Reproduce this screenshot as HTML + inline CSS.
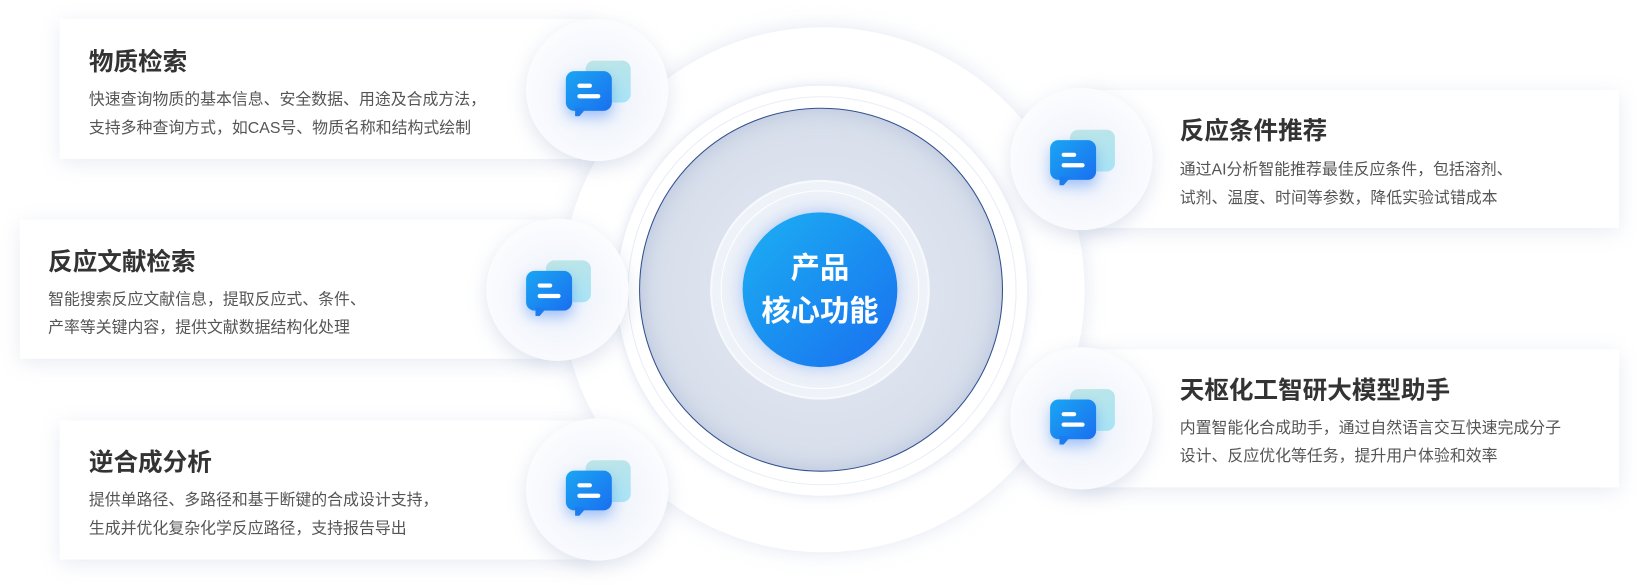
<!DOCTYPE html>
<html><head><meta charset="utf-8"><style>
*{margin:0;padding:0;box-sizing:border-box}
body{width:1640px;height:584px;background:#fff;position:relative;overflow:hidden;font-family:"Liberation Sans","Noto Sans CJK SC",sans-serif}
#w{position:absolute;left:0;top:0;width:1568px;height:559px;transform:scale(1.0459);transform-origin:0 0}
.abs{position:absolute}
.card{position:absolute;background:#fff;box-shadow:0 4px 18px rgba(150,165,200,0.22)}
.circ{position:absolute;border-radius:50%}
.ic{position:absolute;width:136px;height:136px;border-radius:50%;background:radial-gradient(circle at 50% 55%,#e3ecfb 0,#f3f6fc 35%,#fbfcfe 70%,#fff 100%);box-shadow:0 6px 18px rgba(150,165,200,0.3)}
.back{position:absolute;left:57px;top:40px;width:43px;height:40px;border-radius:8px;background:linear-gradient(160deg,#bfe5e6,#a8e4f6)}
.front{position:absolute;left:38px;top:50px;width:44px;height:38px;border-radius:8px;background:linear-gradient(135deg,#1aa6f2,#1a6ff0);box-shadow:0 6px 12px rgba(30,110,240,0.35)}
.tail{position:absolute;left:47px;top:85px;width:0;height:0;border-left:4px solid #1a7cef;border-right:7px solid transparent;border-top:8px solid #1a7cef}
.l1{position:absolute;left:11px;top:12px;width:14px;height:4px;border-radius:2px;background:#fff}
.l2{position:absolute;left:11px;top:22px;width:22px;height:4px;border-radius:2px;background:#fff}
.t{position:absolute;font-size:23.5px;font-weight:bold;color:#333}
.d{position:absolute;font-size:15.2px;color:#555;line-height:27px;white-space:nowrap}
</style></head><body><div id="w">
<div class="circ" style="left:537px;top:26px;width:500px;height:502px;background:#fff;box-shadow:0 0 20px rgba(170,185,215,0.35)"></div>
<div class="circ" style="left:588px;top:80px;width:396px;height:396px;border:2px solid #eef1f7;box-shadow:0 0 10px rgba(170,185,215,0.3)"></div>
<div class="circ" style="left:600px;top:92px;width:372px;height:372px;border:1px solid #e9edf5"></div>
<div class="circ" style="left:611px;top:103px;width:348px;height:348px;border:1px solid #2f4f8f;background:radial-gradient(circle,#e6ebf3 0,#d9e0ec 60%,#ccd5e4 100%);box-shadow:inset 0 0 20px rgba(140,160,200,0.4)"></div>
<div class="circ" style="left:679px;top:172px;width:210px;height:210px;background:#eef2f9;border:2px solid #f7f9fc"></div>
<div class="circ" style="left:689px;top:182px;width:190px;height:190px;border:1px solid #fff;background:#edf1f8"></div>
<div class="circ" style="left:710px;top:203px;width:148px;height:148px;background:linear-gradient(135deg,#1bb0f2,#1a6ff0);box-shadow:0 0 16px rgba(80,140,240,0.45)"></div>
<div class="abs" style="left:710px;top:236px;width:148px;text-align:center;color:#fff;font-weight:bold;font-size:28px;line-height:41px">产品<br>核心功能</div>

<div class="card" style="left:57px;top:18px;width:510px;height:134px"></div>
<div class="card" style="left:19px;top:210px;width:510px;height:133px"></div>
<div class="card" style="left:57px;top:402px;width:510px;height:133px"></div>
<div class="card" style="left:1030px;top:86px;width:518px;height:132px"></div>
<div class="card" style="left:1030px;top:334px;width:518px;height:132px"></div>

<div class="t" style="left:85px;top:40px">物质检索</div>
<div class="d" style="left:85px;top:82px">快速查询物质的基本信息、安全数据、用途及合成方法，<br>支持多种查询方式，如CAS号、物质名称和结构式绘制</div>
<div class="t" style="left:46px;top:231px">反应文献检索</div>
<div class="d" style="left:46px;top:273px">智能搜索反应文献信息，提取反应式、条件、<br>产率等关键内容，提供文献数据结构化处理</div>
<div class="t" style="left:85px;top:423px">逆合成分析</div>
<div class="d" style="left:85px;top:465px">提供单路径、多路径和基于断键的合成设计支持，<br>生成并优化复杂化学反应路径，支持报告导出</div>
<div class="t" style="left:1128px;top:106px">反应条件推荐</div>
<div class="d" style="left:1128px;top:149px">通过AI分析智能推荐最佳反应条件，包括溶剂、<br>试剂、温度、时间等参数，降低实验试错成本</div>
<div class="t" style="left:1128px;top:354px">天枢化工智研大模型助手</div>
<div class="d" style="left:1128px;top:396px">内置智能化合成助手，通过自然语言交互快速完成分子<br>设计、反应优化等任务，提升用户体验和效率</div>

<div class="ic" style="left:503px;top:18px"><div class="back"></div><div class="front"><div class="l1"></div><div class="l2"></div></div><div class="tail"></div></div>
<div class="ic" style="left:465px;top:209px"><div class="back"></div><div class="front"><div class="l1"></div><div class="l2"></div></div><div class="tail"></div></div>
<div class="ic" style="left:503px;top:400px"><div class="back"></div><div class="front"><div class="l1"></div><div class="l2"></div></div><div class="tail"></div></div>
<div class="ic" style="left:966px;top:84px"><div class="back"></div><div class="front"><div class="l1"></div><div class="l2"></div></div><div class="tail"></div></div>
<div class="ic" style="left:966px;top:332px"><div class="back"></div><div class="front"><div class="l1"></div><div class="l2"></div></div><div class="tail"></div></div>
</div></body></html>
